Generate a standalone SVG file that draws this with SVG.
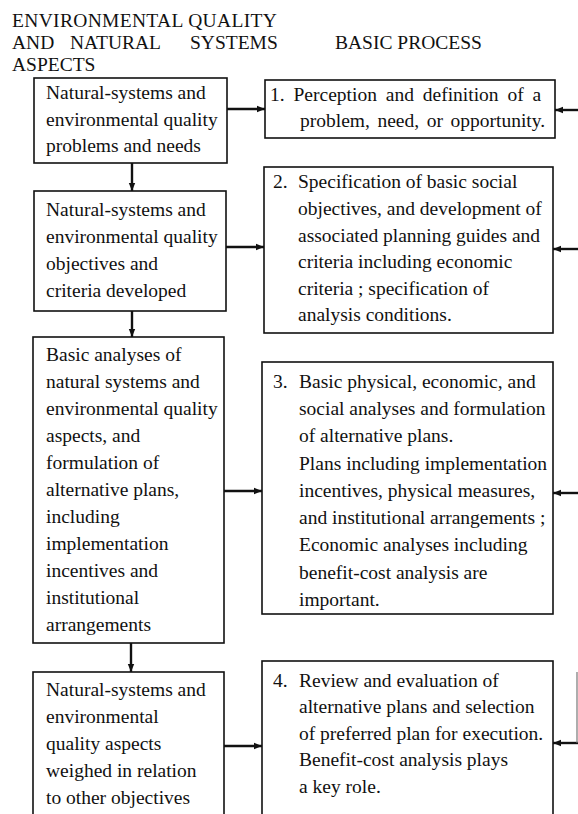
<svg xmlns="http://www.w3.org/2000/svg" width="578" height="814" viewBox="0 0 578 814">
<defs>
<style>
text{font-family:"Liberation Serif","Times New Roman",serif;font-size:19.5px;fill:#111}
.box{fill:#fff;stroke:#111;stroke-width:1.6}
.con{stroke:#111;stroke-width:2.4;fill:none}
</style>
<marker id="ah" markerUnits="userSpaceOnUse" markerWidth="8" markerHeight="8" refX="8" refY="4" orient="auto">
<path d="M0,0.8 L8,4 L0,7.2 z" fill="#111"/>
</marker>
</defs>
<rect width="578" height="814" fill="#fff"/>
<g id="headings">
<text x="12" y="27" letter-spacing="0.33">ENVIRONMENTAL QUALITY</text>
<text x="12" y="49">AND</text>
<text x="70" y="49">NATURAL</text>
<text x="190" y="49">SYSTEMS</text>
<text x="12" y="71">ASPECTS</text>
<text x="335" y="49">BASIC PROCESS</text>
</g>
<g id="L1">
<rect class="box" x="34" y="78" width="193" height="85"/>
<text x="46" y="99">Natural-systems and</text>
<text x="46" y="126">environmental quality</text>
<text x="46" y="152">problems and needs</text>
</g>
<g id="R1">
<rect class="box" x="265" y="80" width="290" height="58"/>
<text x="270" y="101" word-spacing="4">1. Perception and definition of a</text>
<text x="300" y="127" word-spacing="2.7">problem, need, or opportunity.</text>
</g>
<g id="L2">
<rect class="box" x="34" y="191" width="192" height="120"/>
<text x="46" y="216">Natural-systems and</text>
<text x="46" y="243">environmental quality</text>
<text x="46" y="270">objectives and</text>
<text x="46" y="297">criteria developed</text>
</g>
<g id="R2">
<rect class="box" x="264" y="167" width="289" height="166"/>
<text x="273" y="188">2.</text>
<text x="298" y="188">Specification of basic social</text>
<text x="298" y="215">objectives, and development of</text>
<text x="298" y="242">associated planning guides and</text>
<text x="298" y="268">criteria including economic</text>
<text x="298" y="295">criteria ; specification of</text>
<text x="298" y="321">analysis conditions.</text>
</g>
<g id="L3">
<rect class="box" x="33" y="337" width="191" height="306"/>
<text x="46" y="361">Basic analyses of</text>
<text x="46" y="388">natural systems and</text>
<text x="46" y="415">environmental quality</text>
<text x="46" y="442">aspects, and</text>
<text x="46" y="469">formulation of</text>
<text x="46" y="496">alternative plans,</text>
<text x="46" y="523">including</text>
<text x="46" y="550">implementation</text>
<text x="46" y="577">incentives and</text>
<text x="46" y="604">institutional</text>
<text x="46" y="631">arrangements</text>
</g>
<g id="R3">
<rect class="box" x="262" y="362" width="291" height="252"/>
<text x="273" y="388">3.</text>
<text x="299" y="388">Basic physical, economic, and</text>
<text x="299" y="415">social analyses and formulation</text>
<text x="299" y="442">of alternative plans.</text>
<text x="299" y="470">Plans including implementation</text>
<text x="299" y="497">incentives, physical measures,</text>
<text x="299" y="524">and institutional arrangements ;</text>
<text x="299" y="551">Economic analyses including</text>
<text x="299" y="579">benefit-cost analysis are</text>
<text x="299" y="606">important.</text>
</g>
<g id="L4">
<rect class="box" x="33" y="672" width="191" height="160"/>
<text x="46" y="696">Natural-systems and</text>
<text x="46" y="723">environmental</text>
<text x="46" y="750">quality aspects</text>
<text x="46" y="777">weighed in relation</text>
<text x="46" y="804">to other objectives</text>
</g>
<g id="R4">
<rect class="box" x="262" y="661" width="291" height="170"/>
<text x="273" y="687">4.</text>
<text x="299" y="687">Review and evaluation of</text>
<text x="299" y="713">alternative plans and selection</text>
<text x="299" y="740">of preferred plan for execution.</text>
<text x="299" y="766">Benefit-cost analysis plays</text>
<text x="299" y="793">a key role.</text>
</g>
<g id="connectors">
<line class="con" x1="227" y1="109" x2="265" y2="109" marker-end="url(#ah)"/>
<line class="con" x1="578" y1="110" x2="555" y2="110" marker-end="url(#ah)"/>
<line class="con" x1="132" y1="163" x2="132" y2="191" marker-end="url(#ah)"/>
<line class="con" x1="226" y1="247" x2="264" y2="247" marker-end="url(#ah)"/>
<line class="con" x1="578" y1="249" x2="553" y2="249" marker-end="url(#ah)"/>
<line class="con" x1="132" y1="311" x2="132" y2="337" marker-end="url(#ah)"/>
<line class="con" x1="224" y1="491" x2="262" y2="491" marker-end="url(#ah)"/>
<line class="con" x1="578" y1="493" x2="553" y2="493" marker-end="url(#ah)"/>
<line class="con" x1="131" y1="643" x2="131" y2="672" marker-end="url(#ah)"/>
<line class="con" x1="224" y1="746" x2="262" y2="746" marker-end="url(#ah)"/>
<line class="con" x1="578" y1="743" x2="553" y2="743" marker-end="url(#ah)"/>
<line x1="577" y1="672" x2="577" y2="743" stroke="#777" stroke-width="1.2"/>
</g>
</svg>
